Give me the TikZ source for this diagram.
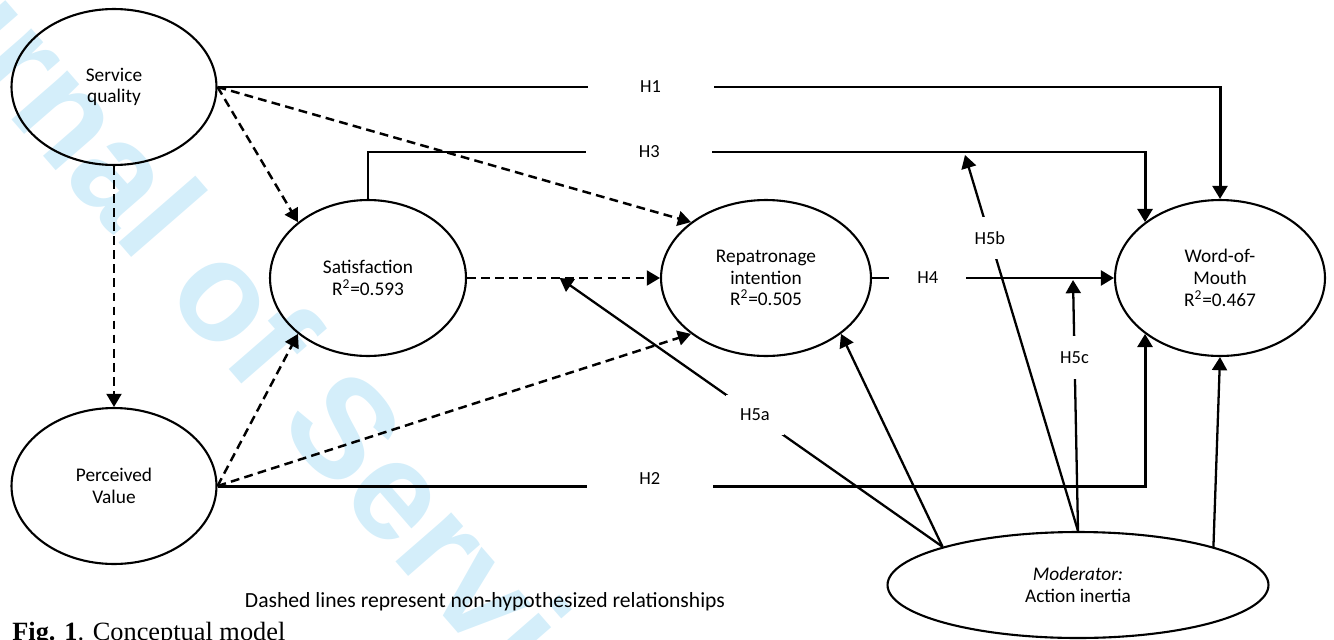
\documentclass[tikz,border=0pt]{standalone}
\usepackage{fontspec}
\setmainfont{Carlito}
\newfontfamily\figfont{Liberation Serif}
\newfontfamily\markfont{Liberation Sans}
\usepackage{tikz}
\usetikzlibrary{positioning, arrows.meta, shapes.geometric, calc}
\definecolor{markblue}{RGB}{212,238,250}

\begin{document}
\begin{tikzpicture}[
    x=0.02cm, y=-0.02cm,
    construct/.style={ellipse, draw=black, line width=1.2pt, inner sep=0pt, align=center, font=\fontsize{11}{12.4}\selectfont, minimum width=4.1cm, minimum height=3.12cm},
    hyp/.style={-{Triangle[length=7.5pt, width=8.5pt]}, line width=1.7pt},
    nonhyp/.style={-{Triangle[length=7.5pt, width=8.5pt]}, line width=1.4pt, dash pattern=on 5pt off 3pt},
    moder/.style={-{Triangle[length=7.5pt, width=8.5pt]}, line width=1.3pt},
    hlabel/.style={fill=white, inner sep=0pt, font=\fontsize{10.5}{12.3}\selectfont},
]
\useasboundingbox (0,0) rectangle (1334,639);

% watermark
\node[font=\markfont\bfseries\fontsize{80}{80}\selectfont, text=markblue, rotate=-49, anchor=base west, inner sep=0pt] (mark) at (-195,-118) {Journal of Service};

% Constructs
\node[construct] (sq) at (114,87) {Service\\quality};
\node[construct] (pv) at (114,486) {Perceived\\Value};
\node[construct, minimum width=3.92cm] (sat) at (368,278) {Satisfaction\\R\textsuperscript{2}=0.593};
\node[construct, minimum width=4.2cm] (rep) at (766,278) {Repatronage\\intention\\R\textsuperscript{2}=0.505};
\node[construct, minimum width=4.2cm] (wom) at (1220,278) {Word-of-\\Mouth\\R\textsuperscript{2}=0.467};
% Moderator
\node[construct, minimum width=7.62cm, minimum height=2.12cm] (mod) at (1078,585) {\textit{Moderator:}\\Action inertia};

\coordinate (c3) at (wom.north west |- 0,152);
\coordinate (h5a) at ($(sat.east)!0.48!(rep.west)$);
\coordinate (h5b) at (965,155);
\coordinate (h5c) at (1073,280);

% Hypothesized paths
\draw[hyp] (sq.east) -| node[hlabel, pos=0.216, minimum width=2.52cm]{H1} (wom.north);
\draw[hyp] (sat.north) |- node[hlabel, pos=0.681, minimum width=2.52cm]{H3} (c3) -- (wom.north west);
\draw[hyp] (pv.east) -| node[hlabel, pos=0.233, minimum width=2.52cm, minimum height=0.6cm, yshift=4pt]{H2} (wom.south west);
\draw[hyp] (rep.east) -- node[hlabel, pos=0.23, minimum width=1.54cm]{H4} (wom.west);

% Non-hypothesized paths
\draw[nonhyp] (sq.south) -- (pv.north);
\draw[nonhyp] (sq.east) -- (sat.north west);
\draw[nonhyp] (sq.east) -- (rep.north west);
\draw[nonhyp] (sat.east) -- (rep.west);
\draw[nonhyp] (pv.east) -- (sat.south west);
\draw[nonhyp] (pv.east) -- (rep.south west);

% Moderating effects
\draw[moder] (mod.north west) -- node[hlabel, pos=0.49, minimum width=1.16cm, minimum height=0.8cm]{H5a} (h5a);
\draw[moder] (mod.north west) -- (rep.south east);
\draw[moder] (mod.north) -- node[hlabel, pos=0.78, minimum width=0.8cm, minimum height=0.84cm]{H5b} (h5b);
\draw[moder] (mod.north) -- node[hlabel, pos=0.69, minimum height=0.86cm]{H5c} (h5c);
\draw[moder] (mod.north east) -- (wom.south);

% Notes
\node[font=\fontsize{12.3}{14}\selectfont] (note) at (485,602) {Dashed lines represent non-hypothesized relationships};
\node[font=\figfont\fontsize{15}{17}\selectfont, anchor=base west, inner sep=0pt] (cap) at (12,640) {\textbf{Fig. 1}. Conceptual model};
\end{tikzpicture}
\end{document}
